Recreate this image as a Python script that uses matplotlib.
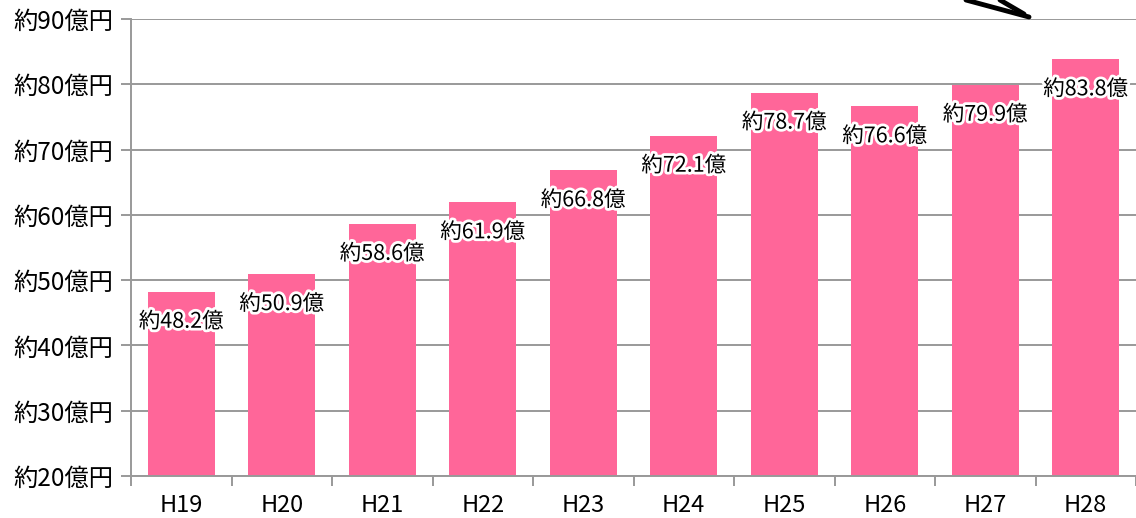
import numpy as np
import matplotlib
matplotlib.use("Agg")
from matplotlib import pyplot as plt
import matplotlib.patheffects as pe
from matplotlib.lines import Line2D

plt.rcParams['font.family'] = ['Noto Sans CJK JP', 'DejaVu Sans']

# --------------------------------------------------------------------------------------------------
# Data
# --------------------------------------------------------------------------------------------------

years = ["H19", "H20", "H21", "H22", "H23", "H24", "H25", "H26", "H27", "H28"]
amounts = [48.2, 50.9, 58.6, 61.9, 66.8, 72.1, 78.7, 76.6, 79.9, 83.8]   # 億円
y_ticks = [20, 30, 40, 50, 60, 70, 80, 90]

pink = "#FF6699"
grid_gray = "#999999"

# --------------------------------------------------------------------------------------------------
# Plot
# --------------------------------------------------------------------------------------------------

fig = plt.figure(figsize=(11.36, 5.18), dpi=100)
ax = fig.add_axes([131 / 1136, 1 - 476 / 518, 1005 / 1136, 457 / 518])

x = np.arange(len(years))
bars = ax.bar(x, [a - 20 for a in amounts], bottom=20, width=0.67, color=pink, zorder=2)

ax.set_xlim(-0.5, len(years) - 0.5)
ax.set_ylim(20, 90)

ax.set_yticks(y_ticks)
ax.set_yticklabels([f"約{v}億円" for v in y_ticks], fontsize=17.5)
ax.yaxis.grid(True, color=grid_gray, linewidth=1.4, zorder=0)
ax.set_axisbelow(True)

ax.set_xticks(x)
ax.set_xticklabels(years, fontsize=17)
ax.set_xticks(np.arange(-0.5, len(years)), minor=True)
ax.tick_params(axis='x', which='major', length=0, pad=13)
ax.tick_params(axis='x', which='minor', length=7, width=1.4, color=grid_gray, direction='out')
ax.tick_params(axis='y', length=7, width=1.4, color=grid_gray, direction='out', pad=6)

for s in ['top', 'right']:
    ax.spines[s].set_visible(False)
for s in ['left', 'bottom']:
    ax.spines[s].set_color(grid_gray)
    ax.spines[s].set_linewidth(1.4)

# Value labels just inside the bar tops, with a white glow
for xi, a in zip(x, amounts):
    ax.annotate(f"約{a}億", (xi, a), xytext=(0, -21.5), textcoords='offset points',
                ha='center', va='center', fontsize=15.5, zorder=4,
                path_effects=[pe.withStroke(linewidth=4, foreground='white')])

# Piece of a callout arrow poking in at the top right
for xs, ys in [((966, 1029), (0, 17)), ((1000, 1024), (0, 14))]:
    fig.add_artist(Line2D([xs[0] / 1136, xs[1] / 1136], [1 - ys[0] / 518, 1 - ys[1] / 518],
                          color='black', linewidth=3.5, solid_capstyle='round'))

fig.savefig("out.png", dpi=100)
